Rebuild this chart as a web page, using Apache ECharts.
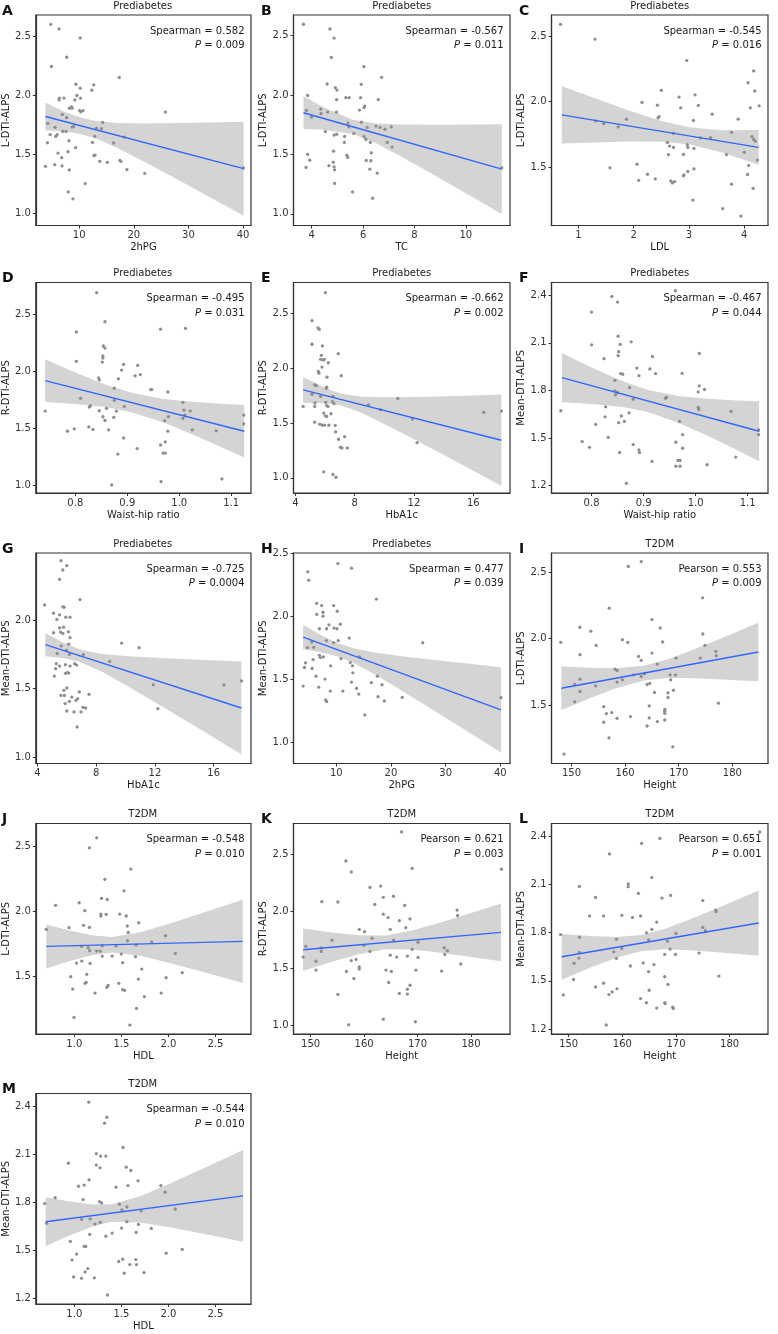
<!DOCTYPE html>
<html><head><meta charset="utf-8">
<script src="https://cdn.jsdelivr.net/npm/echarts@6/dist/echarts.min.js"></script>
<style>html,body{margin:0;padding:0;background:#fff}#c{width:778px;height:1334px}</style>
</head><body><div id="c"></div>
<script>
// ---------- DATA ----------
const ptsA = [[4.79,2.598],[6.30,2.559],[10.18,2.483],[7.70,2.320],[4.91,2.242],[17.33,2.149],[9.39,2.093],[12.67,2.087],[10.18,2.059],[12.30,2.042],[9.58,1.997],[6.36,1.975],[7.20,1.975],[6.30,1.960],[9.20,1.960],[10.24,1.975],[8.60,1.900],[8.20,1.890],[8.70,1.890],[10.06,1.870],[10.70,1.870],[10.30,1.860],[25.76,1.857],[6.90,1.837],[7.70,1.810],[4.24,1.761],[14.30,1.770],[5.58,1.728],[8.70,1.730],[8.97,1.736],[13.15,1.722],[14.06,1.716],[6.97,1.694],[7.58,1.694],[4.67,1.666],[5.70,1.652],[5.94,1.666],[12.85,1.652],[18.24,1.646],[8.12,1.615],[4.18,1.598],[12.42,1.601],[16.30,1.596],[9.33,1.556],[6.12,1.511],[7.94,1.522],[6.79,1.472],[12.90,1.494],[12.67,1.489],[17.45,1.449],[17.64,1.441],[13.76,1.441],[15.15,1.433],[3.82,1.399],[5.52,1.413],[6.85,1.402],[8.18,1.368],[18.73,1.371],[22.00,1.340],[40.06,1.385],[11.09,1.253],[8.00,1.183],[8.85,1.124]];
const ptsB = [[3.68,2.596],[4.71,2.556],[4.87,2.480],[4.76,2.317],[6.03,2.239],[6.72,2.149],[4.60,2.093],[4.92,2.062],[4.98,2.042],[5.93,2.090],[3.84,1.997],[5.33,1.978],[5.46,1.978],[5.90,1.978],[6.59,1.961],[4.97,1.961],[6.06,1.907],[6.04,1.896],[5.86,1.874],[3.79,1.871],[4.35,1.882],[4.36,1.843],[4.96,1.857],[4.62,1.857],[3.99,1.815],[5.41,1.764],[5.93,1.772],[5.45,1.733],[6.16,1.728],[6.50,1.739],[6.66,1.728],[6.85,1.713],[7.10,1.733],[4.53,1.694],[5.64,1.677],[4.87,1.663],[4.97,1.671],[5.28,1.652],[6.04,1.649],[6.11,1.626],[6.28,1.601],[6.94,1.601],[5.27,1.601],[7.13,1.562],[4.85,1.528],[6.32,1.514],[5.37,1.494],[5.40,1.475],[3.84,1.500],[3.92,1.452],[6.12,1.449],[6.30,1.447],[4.84,1.435],[3.78,1.391],[4.67,1.406],[4.87,1.396],[4.89,1.371],[6.26,1.376],[6.55,1.343],[11.40,1.388],[4.89,1.256],[5.59,1.185],[6.37,1.132]];
const ptsC = [[0.675,2.590],[1.30,2.477],[2.96,2.313],[4.17,2.234],[4.07,2.144],[2.50,2.086],[4.19,2.081],[3.11,2.052],[2.82,2.035],[2.15,1.994],[3.17,1.971],[2.43,1.973],[2.85,1.953],[4.11,1.953],[4.27,1.968],[3.42,1.904],[2.44,1.876],[2.46,1.886],[1.87,1.866],[3.08,1.856],[3.89,1.866],[1.31,1.853],[1.46,1.832],[1.72,1.807],[3.77,1.766],[2.72,1.758],[3.39,1.725],[3.21,1.723],[4.14,1.733],[4.17,1.712],[4.20,1.697],[2.61,1.689],[2.65,1.661],[2.72,1.651],[2.97,1.671],[2.98,1.651],[3.09,1.643],[4.00,1.613],[2.63,1.595],[2.90,1.597],[3.68,1.595],[4.24,1.554],[1.57,1.495],[2.06,1.523],[4.08,1.513],[3.09,1.487],[2.91,1.441],[2.90,1.434],[2.98,1.467],[4.06,1.444],[2.25,1.446],[2.39,1.410],[2.09,1.400],[2.67,1.395],[2.70,1.380],[2.74,1.390],[3.77,1.370],[4.16,1.339],[3.07,1.249],[3.61,1.183],[3.94,1.127]];
const ptsD = [[0.841,2.693],[0.857,2.437],[0.964,2.372],[1.012,2.378],[0.802,2.348],[0.854,2.224],[0.857,2.206],[0.853,2.136],[0.853,2.118],[0.852,2.083],[0.802,2.089],[0.893,2.062],[0.920,2.053],[0.925,1.973],[0.915,1.962],[0.889,2.012],[0.845,1.944],[0.846,1.926],[0.883,1.935],[0.945,1.841],[0.947,1.841],[0.875,1.853],[0.978,1.820],[0.810,1.764],[1.007,1.729],[0.875,1.746],[0.827,1.687],[0.829,1.699],[0.860,1.676],[0.846,1.655],[0.879,1.652],[0.894,1.693],[1.009,1.661],[1.021,1.652],[0.742,1.652],[0.853,1.602],[0.857,1.569],[0.874,1.596],[0.979,1.602],[0.972,1.566],[1.007,1.587],[1.011,1.617],[1.124,1.617],[1.124,1.540],[0.785,1.475],[0.798,1.496],[0.826,1.513],[0.834,1.490],[0.864,1.487],[0.978,1.475],[1.025,1.487],[1.071,1.478],[0.893,1.416],[0.973,1.381],[0.964,1.354],[0.919,1.322],[0.969,1.283],[0.973,1.283],[0.882,1.274],[1.082,1.056],[0.965,1.032],[0.870,1.003]];
const ptsE = [[6.02,2.693],[5.12,2.436],[5.52,2.371],[5.61,2.356],[5.12,2.221],[5.82,2.206],[6.89,2.135],[5.75,2.120],[5.70,2.083],[5.88,2.077],[5.95,2.083],[6.22,2.052],[5.79,2.012],[7.09,1.933],[5.55,1.972],[5.59,1.957],[6.13,1.920],[6.11,1.828],[6.09,1.819],[5.41,1.844],[5.30,1.850],[5.12,1.764],[5.70,1.745],[6.53,1.745],[6.51,1.696],[6.60,1.678],[5.32,1.684],[5.30,1.653],[4.52,1.653],[6.04,1.690],[6.20,1.653],[6.11,1.660],[8.93,1.666],[10.91,1.727],[9.74,1.623],[5.91,1.592],[6.40,1.586],[6.11,1.561],[6.02,1.567],[16.71,1.598],[17.90,1.610],[5.30,1.509],[5.64,1.491],[5.82,1.482],[5.97,1.482],[6.26,1.482],[6.69,1.479],[6.71,1.420],[7.32,1.377],[11.89,1.537],[12.21,1.322],[6.91,1.353],[7.03,1.279],[7.14,1.273],[7.50,1.273],[5.91,1.055],[6.53,1.031],[6.74,1.006]];
const ptsF = [[0.961,2.428],[0.839,2.392],[0.850,2.357],[0.800,2.294],[0.851,2.142],[0.855,2.090],[0.876,2.106],[0.800,2.087],[0.852,2.044],[0.851,2.019],[0.824,2.000],[0.917,2.014],[1.007,2.033],[0.887,1.941],[0.912,1.935],[0.923,1.906],[0.891,1.893],[0.974,1.908],[0.856,1.906],[0.860,1.902],[0.845,1.864],[0.845,1.797],[0.846,1.772],[0.850,1.787],[0.873,1.818],[0.880,1.745],[0.942,1.751],[0.944,1.756],[1.007,1.829],[1.017,1.806],[1.005,1.791],[0.827,1.697],[1.005,1.693],[1.006,1.680],[1.068,1.668],[0.741,1.672],[0.872,1.659],[0.857,1.639],[0.863,1.605],[0.852,1.597],[0.808,1.586],[0.826,1.634],[0.969,1.605],[0.975,1.522],[0.782,1.478],[0.832,1.505],[0.962,1.474],[0.880,1.459],[0.796,1.442],[0.975,1.436],[0.891,1.426],[0.892,1.409],[0.854,1.409],[0.916,1.353],[0.966,1.359],[0.970,1.359],[0.962,1.323],[0.970,1.323],[1.022,1.332],[1.077,1.380],[0.867,1.215],[1.121,1.551],[1.121,1.522]];
const ptsG = [[5.60,2.434],[6.00,2.398],[5.73,2.366],[5.51,2.298],[6.90,2.150],[4.49,2.111],[5.10,2.051],[5.73,2.097],[5.82,2.095],[5.51,2.039],[5.93,2.022],[6.22,2.022],[5.33,2.005],[5.51,1.944],[5.78,1.949],[5.57,1.913],[5.73,1.903],[6.11,1.915],[5.10,1.908],[6.22,1.872],[9.73,1.833],[10.92,1.799],[5.62,1.812],[6.13,1.824],[5.35,1.757],[6.18,1.752],[7.12,1.748],[5.98,1.779],[8.92,1.699],[5.28,1.682],[5.51,1.665],[5.91,1.675],[6.54,1.682],[6.67,1.672],[6.22,1.665],[5.91,1.612],[6.04,1.617],[6.13,1.614],[5.15,1.592],[5.24,1.646],[6.00,1.505],[5.80,1.488],[5.60,1.451],[5.84,1.451],[6.18,1.408],[6.34,1.439],[6.74,1.427],[6.85,1.476],[6.63,1.415],[7.51,1.459],[5.89,1.391],[6.00,1.337],[6.49,1.330],[6.97,1.330],[7.10,1.364],[7.28,1.359],[6.70,1.221],[11.89,1.529],[12.20,1.354],[16.70,1.527],[17.89,1.556]];
const ptsH = [[4.79,2.355],[4.97,2.289],[10.30,2.421],[12.79,2.384],[17.33,2.139],[6.42,2.105],[7.33,2.087],[9.52,2.087],[10.18,2.042],[6.42,2.018],[7.58,2.034],[7.58,2.003],[10.73,1.939],[8.67,1.934],[6.91,1.903],[9.58,1.908],[10.12,1.903],[8.24,1.903],[12.36,1.829],[25.80,1.792],[5.52,1.797],[5.88,1.755],[4.73,1.753],[8.18,1.808],[9.52,1.792],[10.36,1.808],[4.36,1.632],[4.18,1.595],[5.76,1.658],[6.91,1.692],[7.09,1.674],[7.64,1.679],[6.30,1.526],[5.58,1.587],[7.94,1.503],[6.79,1.439],[8.97,1.608],[8.06,1.337],[8.24,1.324],[8.91,1.408],[11.21,1.408],[10.85,1.666],[12.55,1.634],[12.97,1.608],[13.03,1.553],[12.79,1.479],[13.70,1.429],[14.12,1.384],[15.21,1.218],[16.42,1.474],[17.52,1.526],[17.64,1.363],[18.36,1.458],[18.79,1.329],[22.06,1.358],[14.24,1.679],[40.12,1.355],[3.94,1.447]];
const ptsI = [[163.0,2.581],[160.6,2.545],[174.46,2.308],[157.03,2.230],[165.0,2.144],[151.56,2.086],[166.55,2.081],[153.6,2.056],[159.5,1.992],[160.5,1.972],[148.0,1.972],[154.6,1.949],[167.0,1.975],[174.5,2.035],[174.9,1.949],[176.9,1.904],[165.0,1.891],[151.6,1.879],[162.5,1.866],[163.0,1.836],[169.5,1.853],[174.0,1.853],[177.0,1.871],[166.0,1.808],[158.1,1.770],[158.5,1.760],[151.6,1.694],[150.6,1.654],[151.6,1.601],[154.5,1.644],[159.5,1.689],[158.5,1.672],[161.6,1.727],[163.0,1.715],[163.6,1.735],[168.4,1.727],[169.4,1.727],[168.5,1.689],[164.1,1.654],[164.6,1.662],[165.5,1.594],[168.0,1.591],[168.0,1.556],[169.0,1.611],[150.6,1.523],[156.0,1.487],[156.5,1.434],[157.5,1.442],[158.5,1.399],[161.0,1.412],[164.5,1.492],[164.5,1.402],[166.0,1.374],[164.1,1.341],[167.4,1.467],[167.4,1.452],[167.4,1.437],[167.4,1.386],[156.0,1.369],[157.0,1.252],[168.9,1.184],[177.4,1.513],[148.6,1.129]];
const ptsJ = [[1.238,2.564],[1.161,2.487],[1.601,2.323],[1.325,2.244],[1.528,2.156],[1.290,2.097],[1.350,2.090],[1.052,2.064],[0.801,2.044],[1.112,2.003],[1.283,1.977],[1.283,1.962],[1.339,1.974],[1.483,1.977],[1.552,1.962],[1.685,1.910],[1.098,1.890],[1.161,1.874],[1.563,1.885],[0.944,1.872],[0.703,1.859],[1.573,1.836],[1.969,1.810],[1.822,1.762],[1.566,1.772],[1.077,1.728],[1.147,1.718],[1.164,1.695],[1.238,1.692],[1.297,1.733],[1.444,1.731],[1.657,1.738],[1.276,1.692],[1.297,1.654],[1.402,1.654],[1.500,1.669],[1.650,1.649],[2.073,1.674],[1.024,1.600],[1.080,1.615],[1.168,1.597],[1.514,1.603],[1.717,1.554],[0.962,1.495],[1.133,1.513],[1.976,1.487],[1.682,1.477],[2.147,1.526],[0.983,1.400],[1.115,1.444],[1.126,1.451],[1.220,1.369],[1.346,1.413],[1.360,1.428],[1.472,1.444],[1.514,1.395],[1.535,1.390],[1.745,1.341],[1.923,1.369],[1.661,1.251],[0.997,1.182],[1.591,1.123]];
const ptsK = [[167.0,2.692],[156.6,2.438],[157.6,2.343],[169.0,2.373],[185.7,2.367],[161.1,2.207],[163.1,2.219],[163.6,2.121],[165.5,2.130],[152.1,2.083],[155.1,2.080],[162.0,2.059],[167.6,2.050],[163.6,1.973],[164.5,1.944],[166.6,1.917],[168.6,1.932],[177.4,2.009],[177.5,1.962],[159.1,1.840],[160.1,1.820],[164.9,1.840],[167.8,1.855],[154.0,1.746],[161.5,1.763],[165.5,1.746],[170.1,1.728],[149.1,1.692],[160.0,1.701],[152.0,1.678],[152.0,1.648],[161.1,1.648],[169.0,1.666],[175.0,1.680],[175.6,1.654],[175.1,1.621],[148.6,1.598],[158.5,1.577],[164.9,1.615],[166.1,1.598],[168.1,1.607],[170.1,1.595],[157.6,1.568],[151.0,1.562],[159.1,1.512],[159.1,1.494],[178.1,1.538],[156.7,1.473],[151.0,1.485],[164.1,1.485],[165.1,1.473],[169.7,1.485],[174.5,1.476],[158.1,1.411],[164.6,1.376],[155.1,1.272],[166.6,1.281],[168.1,1.317],[168.1,1.275],[168.6,1.352],[163.6,1.056],[157.1,1.006],[169.6,1.033]];
const ptsL = [[185.6,2.425],[167.0,2.385],[163.6,2.354],[157.6,2.289],[165.5,2.142],[161.1,2.102],[161.1,2.085],[152.0,2.087],[155.0,2.018],[163.0,2.043],[167.4,2.014],[169.0,2.031],[175.0,1.999],[153.9,1.903],[156.5,1.903],[159.9,1.907],[161.9,1.894],[163.4,1.903],[166.4,1.865],[177.4,1.939],[177.5,1.930],[165.5,1.819],[164.5,1.798],[175.0,1.832],[175.5,1.811],[170.0,1.794],[148.5,1.787],[152.0,1.771],[158.9,1.758],[164.9,1.754],[168.4,1.746],[158.4,1.680],[159.9,1.701],[152.0,1.676],[158.9,1.639],[151.9,1.641],[168.9,1.697],[167.9,1.664],[169.9,1.664],[174.3,1.672],[151.0,1.609],[161.5,1.592],[163.9,1.611],[165.9,1.601],[164.9,1.557],[167.9,1.525],[150.9,1.508],[178.0,1.529],[149.0,1.412],[155.0,1.462],[156.5,1.485],[157.5,1.414],[158.1,1.431],[159.0,1.450],[163.4,1.389],[164.5,1.364],[165.0,1.441],[166.4,1.330],[167.9,1.364],[168.0,1.358],[168.5,1.477],[169.4,1.336],[169.5,1.328],[157.0,1.225]];
const ptsM = [[1.154,2.425],[1.346,2.331],[1.322,2.294],[1.517,2.143],[0.937,2.045],[1.234,2.104],[1.280,2.089],[1.336,2.089],[1.234,2.033],[1.273,2.016],[1.552,2.020],[1.601,1.999],[1.045,1.901],[1.105,1.908],[1.157,1.941],[1.570,1.905],[1.678,1.935],[1.444,1.895],[1.920,1.905],[1.965,1.864],[0.797,1.830],[0.685,1.793],[1.094,1.818],[1.269,1.805],[1.290,1.797],[1.479,1.789],[1.559,1.772],[1.507,1.753],[1.710,1.747],[2.073,1.759],[0.706,1.670],[1.077,1.695],[1.168,1.697],[1.276,1.676],[1.220,1.665],[1.559,1.680],[1.682,1.663],[1.503,1.640],[1.818,1.638],[1.164,1.601],[1.336,1.590],[1.402,1.609],[1.657,1.613],[0.958,1.557],[1.105,1.526],[1.122,1.526],[1.024,1.478],[0.976,1.442],[1.115,1.367],[1.143,1.388],[0.993,1.336],[1.077,1.327],[1.213,1.330],[1.472,1.432],[1.514,1.446],[1.531,1.359],[1.591,1.413],[1.654,1.444],[1.661,1.413],[1.741,1.363],[1.976,1.484],[2.147,1.507],[1.353,1.223]];

// fitted line end points [x, y]
const fitA = [[3.82,1.820],[40.1,1.379]];
const fitB = [[3.68,1.851],[11.40,1.376]];
const fitC = [[0.70,1.899],[4.26,1.651]];
const fitD = [[0.742,1.920],[1.125,1.475]];
const fitE = [[4.52,1.804],[17.90,1.344]];
const fitF = [[0.743,1.881],[1.122,1.543]];
const fitG = [[4.54,1.822],[17.89,1.359]];
const fitH = [[3.94,1.837],[40.12,1.258]];
const fitI = [[148.1,1.626],[184.85,1.899]];
const fitJ = [[0.703,1.728],[2.79,1.767]];
const fitK = [[148.6,1.663],[185.6,1.814]];
const fitL = [[148.7,1.649],[185.4,1.859]];
const fitM = [[0.696,1.680],[2.794,1.841]];

// confidence band [x, lower, upper]
const bandA = [[3.82,1.702,1.938],[7,1.695,1.867],[10,1.675,1.813],[13,1.635,1.781],[17,1.554,1.764],[22,1.435,1.761],[28,1.287,1.764],[34,1.136,1.770],[40.1,0.982,1.776]];
const bandB = [[3.68,1.714,1.989],[4.5,1.708,1.894],[5.6,1.673,1.793],[6.5,1.595,1.761],[7.5,1.480,1.752],[9,1.297,1.751],[10.2,1.148,1.752],[11.4,0.998,1.754]];
const bandC = [[0.70,1.680,2.118],[1.3,1.689,2.025],[1.9,1.696,1.934],[2.5,1.694,1.853],[3.0,1.674,1.804],[3.6,1.612,1.782],[4.26,1.519,1.783]];
const bandD = [[0.742,1.732,2.108],[0.80,1.714,1.992],[0.86,1.685,1.881],[0.91,1.640,1.810],[0.97,1.551,1.759],[1.03,1.438,1.732],[1.08,1.337,1.717],[1.125,1.244,1.706]];
const bandE = [[4.52,1.687,1.921],[5.5,1.685,1.856],[6.5,1.675,1.797],[7.2,1.657,1.767],[8.5,1.593,1.741],[10.5,1.459,1.737],[13,1.282,1.742],[15.5,1.101,1.751],[17.9,0.927,1.761]];
const bandF = [[0.743,1.726,2.036],[0.80,1.715,1.945],[0.86,1.696,1.858],[0.91,1.662,1.802],[0.97,1.592,1.764],[1.03,1.503,1.746],[1.08,1.423,1.737],[1.122,1.354,1.732]];
const bandG = [[4.54,1.737,1.907],[5.7,1.724,1.840],[6.9,1.695,1.785],[8.5,1.618,1.751],[10.5,1.496,1.734],[13,1.337,1.721],[15.5,1.176,1.709],[17.89,1.020,1.698]];
const bandH = [[3.94,1.740,1.934],[7,1.718,1.858],[10,1.686,1.794],[13,1.634,1.750],[17,1.541,1.715],[22,1.411,1.685],[28,1.249,1.655],[34,1.086,1.626],[40.12,0.919,1.597]];
const bandI = [[148.1,1.462,1.790],[153,1.543,1.781],[158,1.621,1.777],[163.5,1.685,1.795],[168,1.703,1.845],[173,1.701,1.921],[179,1.690,2.020],[184.85,1.678,2.120]];
const bandJ = [[0.703,1.559,1.897],[0.95,1.615,1.851],[1.2,1.662,1.812],[1.4,1.681,1.801],[1.7,1.656,1.838],[2.0,1.603,1.901],[2.4,1.525,1.994],[2.79,1.446,2.088]];
const bandK = [[148.6,1.478,1.848],[154,1.557,1.814],[159,1.623,1.789],[164,1.666,1.786],[169,1.664,1.830],[174,1.639,1.896],[180,1.600,1.983],[185.6,1.561,2.067]];
const bandL = [[148.7,1.507,1.791],[154,1.581,1.779],[159,1.644,1.772],[163.5,1.684,1.784],[168,1.696,1.824],[173,1.689,1.887],[179,1.674,1.970],[185.4,1.656,2.062]];
const bandM = [[0.696,1.528,1.832],[0.95,1.594,1.806],[1.2,1.651,1.787],[1.4,1.679,1.789],[1.7,1.675,1.839],[2.0,1.647,1.913],[2.4,1.602,2.020],[2.794,1.555,2.127]];

// tick labels
const ticks2hPG = ['10','20','30','40'];
const ticksTC = ['4','6','8','10'];
const ticksLDL = ['1','2','3','4'];
const ticksWHR = ['0.8','0.9','1.0','1.1'];
const ticksHbA1c = ['4','8','12','16'];
const ticksHeight = ['150','160','170','180'];
const ticksHDL = ['1.0','1.5','2.0','2.5'];
const yTicks10to25 = ['1.0','1.5','2.0','2.5'];
const yTicks15to25 = ['1.5','2.0','2.5'];
const yTicks10to20 = ['1.0','1.5','2.0'];
const yTicks12to24 = ['1.2','1.5','1.8','2.1','2.4'];

// ---------- BUILD ----------
const panels = [
 {id:'A', group:'Prediabetes', xName:'2hPG', yName:'L-DTI-ALPS', stat:'Spearman = 0.582', p:'0.009', pts:ptsA, fit:fitA, band:bandA, xr:[2.05,41.45], yr:[0.899,2.677], xt:ticks2hPG, yt:yTicks10to25},
 {id:'B', group:'Prediabetes', xName:'TC', yName:'L-DTI-ALPS', stat:'Spearman = -0.567', p:'0.011', pts:ptsB, fit:fitB, band:bandB, xr:[3.29,11.72], yr:[0.902,2.674], xt:ticksTC, yt:yTicks10to25},
 {id:'C', group:'Prediabetes', xName:'LDL', yName:'L-DTI-ALPS', stat:'Spearman = -0.545', p:'0.016', pts:ptsC, fit:fitC, band:bandC, xr:[0.513,4.43], yr:[1.055,2.661], xt:ticksLDL, yt:yTicks15to25},
 {id:'D', group:'Prediabetes', xName:'Waist-hip ratio', yName:'R-DTI-ALPS', stat:'Spearman = -0.495', p:'0.031', pts:ptsD, fit:fitD, band:bandD, xr:[0.724,1.138], yr:[0.932,2.782], xt:ticksWHR, yt:yTicks10to25},
 {id:'E', group:'Prediabetes', xName:'HbA1c', yName:'R-DTI-ALPS', stat:'Spearman = -0.662', p:'0.002', pts:ptsE, fit:fitE, band:bandE, xr:[3.87,18.48], yr:[0.862,2.785], xt:ticksHbA1c, yt:yTicks10to25},
 {id:'F', group:'Prediabetes', xName:'Waist-hip ratio', yName:'Mean-DTI-ALPS', stat:'Spearman = -0.467', p:'0.044', pts:ptsF, fit:fitF, band:bandF, xr:[0.723,1.139], yr:[1.154,2.480], xt:ticksWHR, yt:yTicks12to24},
 {id:'G', group:'Prediabetes', xName:'HbA1c', yName:'Mean-DTI-ALPS', stat:'Spearman = -0.725', p:'0.0004', pts:ptsG, fit:fitG, band:bandG, xr:[3.89,18.54], yr:[0.954,2.49], xt:ticksHbA1c, yt:yTicks10to20},
 {id:'H', group:'Prediabetes', xName:'2hPG', yName:'Mean-DTI-ALPS', stat:'Spearman = 0.477', p:'0.039', pts:ptsH, fit:fitH, band:bandH, xr:[2.18,41.76], yr:[0.832,2.505], xt:ticks2hPG, yt:yTicks10to25},
 {id:'I', group:'T2DM', xName:'Height', yName:'L-DTI-ALPS', stat:'Pearson = 0.553', p:'0.009', pts:ptsI, fit:fitI, band:bandI, xr:[146.27,186.65], yr:[1.058,2.646], xt:ticksHeight, yt:yTicks15to25},
 {id:'J', group:'T2DM', xName:'HDL', yName:'L-DTI-ALPS', stat:'Spearman = -0.548', p:'0.010', pts:ptsJ, fit:fitJ, band:bandJ, xr:[0.591,2.878], yr:[1.054,2.674], xt:ticksHDL, yt:yTicks15to25},
 {id:'K', group:'T2DM', xName:'Height', yName:'R-DTI-ALPS', stat:'Pearson = 0.621', p:'0.003', pts:ptsK, fit:fitK, band:bandK, xr:[146.8,187.3], yr:[0.926,2.766], xt:ticksHeight, yt:yTicks10to25},
 {id:'L', group:'T2DM', xName:'Height', yName:'Mean-DTI-ALPS', stat:'Pearson = 0.651', p:'0.001', pts:ptsL, fit:fitL, band:bandL, xr:[146.8,187.15], yr:[1.169,2.478], xt:ticksHeight, yt:yTicks12to24},
 {id:'M', group:'T2DM', xName:'HDL', yName:'Mean-DTI-ALPS', stat:'Spearman = -0.544', p:'0.010', pts:ptsM, fit:fitM, band:bandM, xr:[0.591,2.878], yr:[1.167,2.479], xt:ticksHDL, yt:yTicks12to24}
];

const FONT = 'DejaVu Sans';
const colLeft = [34.5, 293.5, 551.5];
const rowTop = [15, 282.5, 553, 823.5, 1093.5];
const W = 216.5, H = 210.5;
const AX = '#333333';

const grid = [], xAxis = [], yAxis = [], series = [], graphic = [];
function fmt(labels) {
  const vals = labels.map(Number);
  return function (v) {
    const k = vals.findIndex(t => Math.abs(t - v) < 1e-9);
    return k >= 0 ? labels[k] : '';
  };
}
panels.forEach((p, i) => {
  const left = colLeft[i % 3], top = rowTop[Math.floor(i / 3)];
  grid.push({left: left, top: top, width: W, height: H, show: true, borderColor: AX, borderWidth: 1.2, backgroundColor: 'transparent', containLabel: false});
  const xv = p.xt.map(Number), yv = p.yt.map(Number);
  xAxis.push({
    type: 'value', gridIndex: i, min: p.xr[0], max: p.xr[1],
    name: p.xName, nameLocation: 'middle', nameGap: 17,
    nameTextStyle: {fontFamily: FONT, fontSize: 10, color: '#1a1a1a'},
    axisLine: {show: true, onZero: false, lineStyle: {color: AX, width: 1.2}},
    axisTick: {show: true, length: 3, customValues: xv, lineStyle: {color: AX, width: 1}},
    axisLabel: {show: true, customValues: xv, formatter: fmt(p.xt), margin: 5, fontFamily: FONT, fontSize: 10, color: '#333'},
    splitLine: {show: false}
  });
  yAxis.push({
    type: 'value', gridIndex: i, min: p.yr[0], max: p.yr[1],
    name: p.yName, nameLocation: 'middle', nameGap: 22,
    nameTextStyle: {fontFamily: FONT, fontSize: 10, color: '#1a1a1a'},
    axisLine: {show: true, onZero: false, lineStyle: {color: AX, width: 1.2}},
    axisTick: {show: true, length: 3, customValues: yv, lineStyle: {color: AX, width: 1}},
    axisLabel: {show: true, customValues: yv, formatter: fmt(p.yt), margin: 5, fontFamily: FONT, fontSize: 10, color: '#333'},
    splitLine: {show: false}
  });
  const band = p.band;
  series.push({
    type: 'custom', xAxisIndex: i, yAxisIndex: i, data: band, encode: {x: 0, y: [1, 2]},
    silent: true, z: 1,
    renderItem: function (params, api) {
      if (params.dataIndex !== 0) return null;
      const up = band.map(r => api.coord([r[0], r[2]]));
      const lo = band.slice().reverse().map(r => api.coord([r[0], r[1]]));
      return {type: 'polygon', shape: {points: up.concat(lo)}, style: {fill: '#d4d4d4'}};
    }
  });
  series.push({
    type: 'scatter', xAxisIndex: i, yAxisIndex: i, data: p.pts, symbolSize: 3.3,
    itemStyle: {color: '#8e8e8e', opacity: 1}, silent: true, z: 2
  });
  series.push({
    type: 'line', xAxisIndex: i, yAxisIndex: i, data: p.fit, showSymbol: false, symbol: 'none',
    lineStyle: {color: '#3366ff', width: 1.4}, silent: true, z: 3
  });
  graphic.push({type: 'text', x: left + W / 2, y: top - 9, silent: true,
    style: {text: p.group, fontFamily: FONT, fontSize: 10, fill: '#1a1a1a', align: 'center', verticalAlign: 'middle'}});
  graphic.push({type: 'text', x: left - 32.5, y: top - 4, silent: true,
    style: {text: p.id, fontFamily: FONT, fontSize: 14, fontWeight: 'bold', fill: '#111', align: 'left', verticalAlign: 'middle'}});
  graphic.push({type: 'text', x: left + W - 6.5, y: top + 16, silent: true, z: 10,
    style: {text: p.stat, fontFamily: FONT, fontSize: 10, fill: '#1a1a1a', align: 'right', verticalAlign: 'middle'}});
  graphic.push({type: 'text', x: left + W - 6.5, y: top + 30.5, silent: true, z: 10,
    style: {text: '{i|P} = ' + p.p, fontFamily: FONT, fontSize: 10, fill: '#1a1a1a', align: 'right', verticalAlign: 'middle',
      rich: {i: {fontFamily: FONT, fontSize: 10, fontStyle: 'italic', fill: '#1a1a1a'}}}});
});

const chart = echarts.init(document.getElementById('c'), null, {renderer: 'canvas'});
chart.setOption({
  animation: false,
  backgroundColor: '#ffffff',
  grid: grid, xAxis: xAxis, yAxis: yAxis, series: series, graphic: graphic,
  tooltip: {show: false}, legend: {show: false}
});
</script>
</body></html>
